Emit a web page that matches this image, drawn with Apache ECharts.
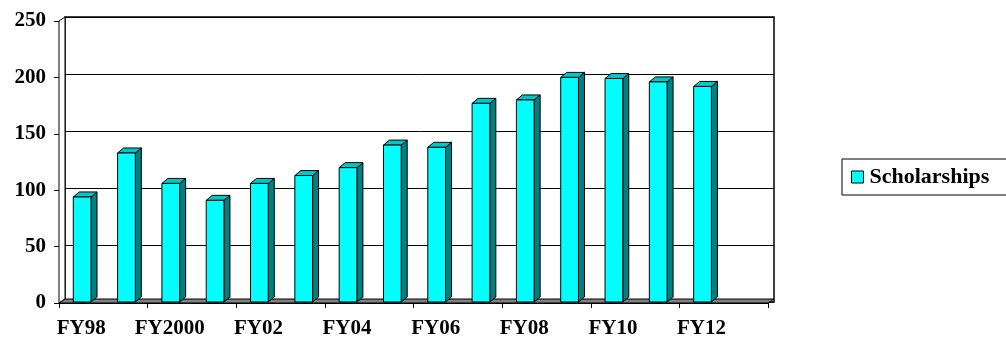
<!DOCTYPE html>
<html>
<head>
<meta charset="utf-8">
<script src="https://cdn.jsdelivr.net/npm/echarts@6/dist/echarts.min.js"></script>
<style>
  html, body { margin: 0; padding: 0; background: #fff; }
  #chart { width: 1006px; height: 339px; }
</style>
</head>
<body>
<div id="chart"></div>
<script>
// values
var years = ['FY98', 'FY99', 'FY2000', 'FY01', 'FY02', 'FY03', 'FY04', 'FY05',
             'FY06', 'FY07', 'FY08', 'FY09', 'FY10', 'FY11', 'FY12', 'FY13']
var scholarships = [94, 133, 106, 91, 106, 113, 120, 140, 138, 177, 180, 200, 199, 196, 192, null]
var yTicks = [0, 50, 100, 150, 200, 250]

var font = 'Liberation Serif, Times New Roman, serif'
var DX = 6, DY = -4   // depth of the fake 3d

var myChart = echarts.init(document.getElementById('chart'))

function renderFloor(params, api) {
  var cs = params.coordSys
  var x0 = cs.x, x1 = cs.x + cs.width, yb = cs.y + cs.height, yt = cs.y
  return {
    type: 'group',
    children: [
      { // left side wall
        type: 'polygon',
        shape: { points: [[x0, yb], [x0, yt], [x0 + DX, yt + DY], [x0 + DX, yb + DY]] },
        style: { fill: '#fff', stroke: '#000', lineWidth: 1 }
      },
      { // floor
        type: 'polygon',
        shape: { points: [[x0, yb], [x1, yb], [x1 + DX, yb + DY], [x0 + DX, yb + DY]] },
        style: { fill: '#808080', stroke: '#000', lineWidth: 1 }
      }
    ]
  }
}

function renderBar(params, api) {
  var v = api.value(1)
  if (v == null || isNaN(v)) return null
  var top = api.coord([api.value(0), v])
  var base = api.coord([api.value(0), 0])
  var w = api.size([1, 0])[0] * 0.4
  var x = top[0] - w / 2 + 1
  var y = top[1], b = base[1] - 1
  var dy = -5
  var st = { stroke: '#000', lineWidth: 1 }
  return {
    type: 'group',
    children: [
      { type: 'polygon',
        shape: { points: [[x + w, y], [x + w + DX, y + dy], [x + w + DX, b + dy], [x + w, b]] },
        style: Object.assign({ fill: '#008080' }, st) },
      { type: 'polygon',
        shape: { points: [[x, y], [x + DX, y + dy], [x + w + DX, y + dy], [x + w, y]] },
        style: Object.assign({ fill: '#00C8C8' }, st) },
      { type: 'rect',
        shape: { x: x, y: y, width: w, height: b - y },
        style: Object.assign({ fill: '#00FFFF' }, st) }
    ]
  }
}

var option = {
  animation: false,
  legend: {
    data: ['Scholarships'],
    left: 842,
    top: 159,
    orient: 'vertical',
    icon: 'rect',
    itemWidth: 12,
    itemHeight: 12,
    itemGap: 0,
    padding: [7, 80, 7, 9],
    borderColor: '#000',
    borderWidth: 1,
    textStyle: { fontFamily: font, fontWeight: 'bold', fontSize: 22, color: '#000', padding: [0, 0, 0, 1] },
    itemStyle: { color: '#00FFFF', borderColor: '#000', borderWidth: 1 }
  },
  grid: [
    { left: 59, top: 21, right: 238, bottom: 33 },
    { left: 65, top: 17, right: 232, bottom: 37, show: true, borderColor: '#000', borderWidth: 1.5, backgroundColor: '#fff' }
  ],
  xAxis: [
    {
      gridIndex: 0,
      type: 'category',
      data: years,
      axisLine: { lineStyle: { color: '#000', width: 1 } },
      axisTick: { show: true, length: 5, lineStyle: { color: '#000' } },
      axisLabel: { interval: 1, color: '#000', fontFamily: font, fontWeight: 'bold', fontSize: 21, margin: 15 }
    },
    {
      gridIndex: 1,
      type: 'category',
      data: years,
      show: false
    }
  ],
  yAxis: [
    {
      gridIndex: 0,
      type: 'value',
      min: yTicks[0],
      max: yTicks[yTicks.length - 1],
      interval: 50,
      axisLine: { show: true, lineStyle: { color: '#000', width: 1 } },
      axisTick: { show: true, length: 5, lineStyle: { color: '#000' } },
      splitLine: { show: false },
      axisLabel: { color: '#000', fontFamily: font, fontWeight: 'bold', fontSize: 21, margin: 13 }
    },
    {
      gridIndex: 1,
      type: 'value',
      min: yTicks[0],
      max: yTicks[yTicks.length - 1],
      interval: 50,
      axisLine: { show: false },
      axisTick: { show: false },
      axisLabel: { show: false },
      splitLine: { show: true, lineStyle: { color: '#000', width: 1 } }
    }
  ],
  series: [
    {
      name: 'floor',
      type: 'custom',
      xAxisIndex: 0,
      yAxisIndex: 0,
      silent: true,
      data: [[0, 0]],
      renderItem: renderFloor,
      z: 1
    },
    {
      name: 'Scholarships',
      type: 'custom',
      xAxisIndex: 0,
      yAxisIndex: 0,
      itemStyle: { color: '#00FFFF' },
      encode: { x: 0, y: 1 },
      data: scholarships.map(function (v, i) { return [i, v] }),
      renderItem: renderBar,
      z: 3
    }
  ]
}

myChart.setOption(option)
window.addEventListener('resize', function () { myChart.resize() })
</script>
</body>
</html>
